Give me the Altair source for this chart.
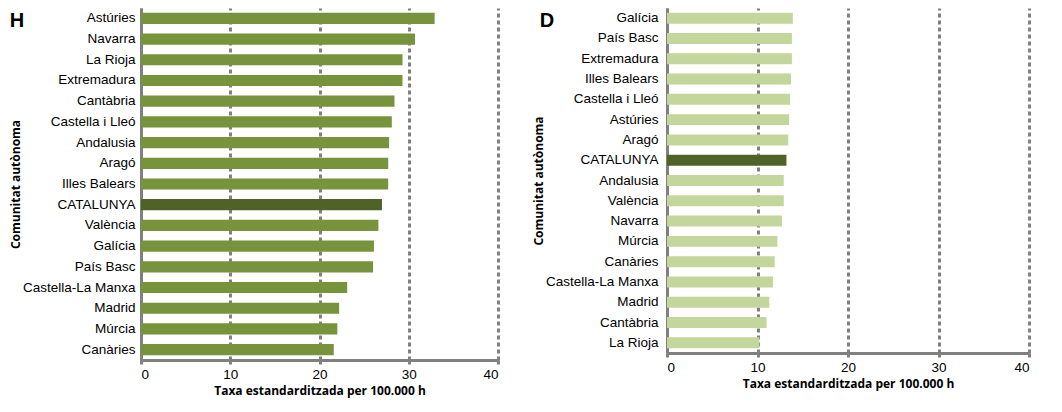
import altair as alt
import pandas as pd

h_regions = ["Astúries", "Navarra", "La Rioja", "Extremadura", "Cantàbria", "Castella i Lleó",
             "Andalusia", "Aragó", "Illes Balears", "CATALUNYA", "València", "Galícia",
             "País Basc", "Castella-La Manxa", "Madrid", "Múrcia", "Canàries"]
h_values = [32.9, 30.7, 29.3, 29.3, 28.4, 28.1, 27.8, 27.7, 27.7, 27.0, 26.6, 26.1,
            26.0, 23.1, 22.2, 22.0, 21.6]

d_regions = ["Galícia", "País Basc", "Extremadura", "Illes Balears", "Castella i Lleó", "Astúries",
             "Aragó", "CATALUNYA", "Andalusia", "València", "Navarra", "Múrcia", "Canàries",
             "Castella-La Manxa", "Madrid", "Cantàbria", "La Rioja"]
d_values = [13.9, 13.8, 13.8, 13.7, 13.6, 13.5, 13.4, 13.2, 12.9, 12.9, 12.7, 12.2, 11.9,
            11.7, 11.3, 11.0, 10.2]

x_ticks = [0, 10, 20, 30, 40]

GRAY = "#808080"
LABEL_FONT = "Liberation Sans"
TITLE_FONT = "Open Sans"


def panel(regions, values, bar_color, letter, width, height, label_pad, letter_x):
    df = pd.DataFrame({"region": regions, "value": values, "letter": [letter] + [""] * (len(regions) - 1)})
    base = alt.Chart(df)
    bars = base.mark_bar().encode(
        y=alt.Y("region:N", sort=regions,
                scale=alt.Scale(paddingInner=0.46, paddingOuter=0.23),
                axis=alt.Axis(title="Comunitat autònoma", titleFont=TITLE_FONT, titleFontSize=12,
                              titleFontWeight="bold", titleColor="#000000", titlePadding=0,
                              labelFont=LABEL_FONT, labelFontSize=13.5, labelColor="#000000",
                              labelPadding=label_pad, ticks=False, domainColor=GRAY, domainWidth=3,
                              labelLimit=200)),
        x=alt.X("value:Q", scale=alt.Scale(domain=[0, 40], nice=False),
                axis=alt.Axis(values=x_ticks, title="Taxa estandarditzada per 100.000 h",
                              titleFont=TITLE_FONT, titleFontSize=12, titleFontWeight="bold",
                              titleColor="#000000", titlePadding=5,
                              labelFont=LABEL_FONT, labelFontSize=13.5, labelColor="#000000",
                              labelPadding=3, tickSize=4, tickWidth=3, tickColor=GRAY,
                              domainColor=GRAY, domainWidth=3,
                              grid=True, gridColor=GRAY, gridWidth=3, gridOpacity=1,
                              gridDash=[4, 3])),
        color=alt.condition(alt.datum.region == "CATALUNYA", alt.value("#4F6228"), alt.value(bar_color)),
    )
    txt = base.transform_filter(alt.datum.letter != "").mark_text(
        font=LABEL_FONT, fontSize=20, fontWeight="bold", color="#000000", align="center", baseline="middle"
    ).encode(x=alt.value(letter_x), y=alt.value(13), text="letter:N")
    return alt.layer(bars, txt).properties(width=width, height=height)


left = panel(h_regions, h_values, "#77933C", "H", 357, 352, 6, -124)
right = panel(d_regions, d_values, "#C3D69B", "D", 362, 345, 9, -120)

chart = alt.hconcat(left, right, spacing=32).configure_view(stroke=None).properties(
    padding={"left": 1, "top": 0, "right": 0, "bottom": 3})

chart.save("out.html", embed_options={"renderer": "svg", "actions": False})
